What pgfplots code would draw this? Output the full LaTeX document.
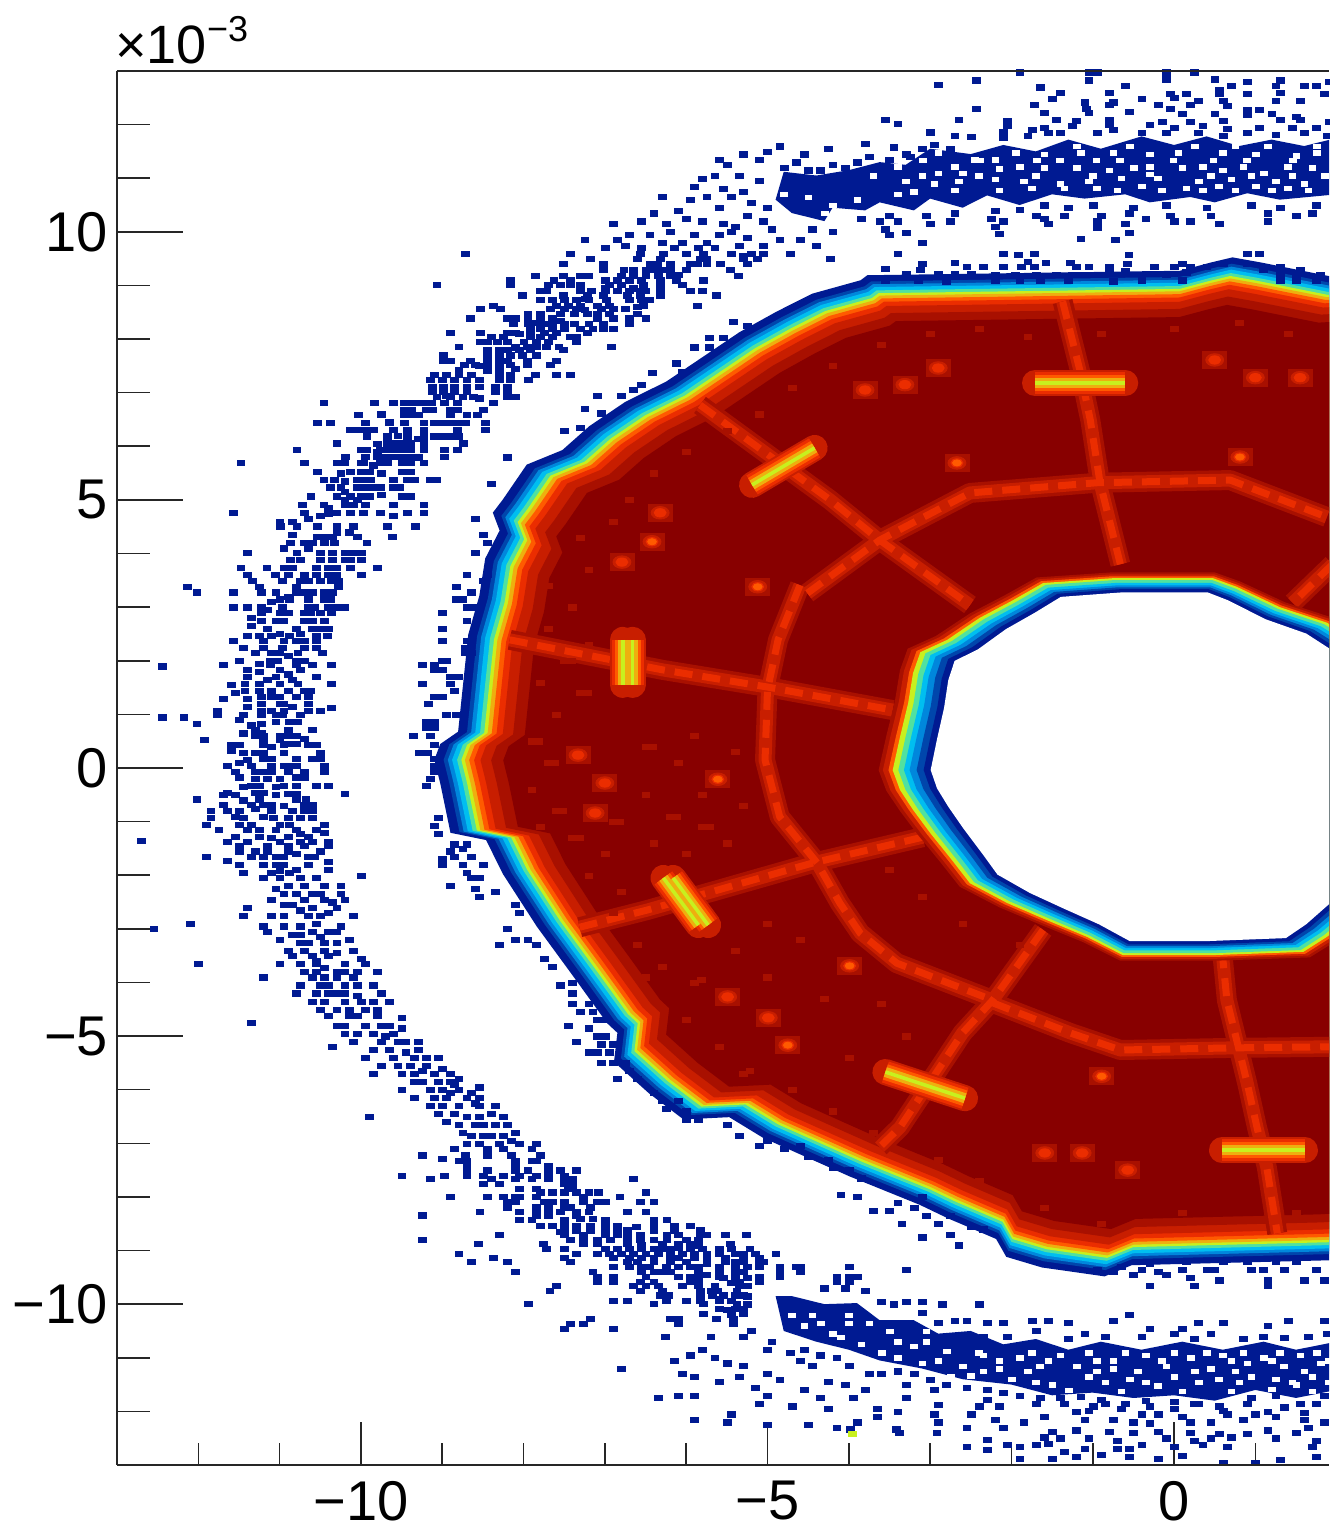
\documentclass[border=0pt]{standalone}
\usepackage{fontspec}
\setmainfont{Liberation Sans}
\usepackage{pgfplots}
\pgfplotsset{compat=1.18}
\usepackage{pgfplotstable}

\definecolor{c0}{RGB}{0,26,146}
\definecolor{c1}{RGB}{0,70,172}
\definecolor{c2}{RGB}{0,135,220}
\definecolor{c3}{RGB}{0,190,240}
\definecolor{c4}{RGB}{80,225,160}
\definecolor{c5}{RGB}{200,240,30}
\definecolor{c6}{RGB}{238,175,15}
\definecolor{c7}{RGB}{255,90,0}
\definecolor{c8}{RGB}{235,45,0}
\definecolor{c9}{RGB}{200,30,0}
\definecolor{c10}{RGB}{168,16,0}
\definecolor{c11}{RGB}{136,0,0}

% outer contour of the ring (yellow level)
\pgfplotstableread{
x y
-8.45 0.65
-8.66 0.43
-8.73 0.15
-8.66 -0.28
-8.54 -1.16
-8.12 -1.29
-7.92 -1.90
-7.52 -2.84
-7.10 -3.71
-6.69 -4.57
-6.57 -4.74
-6.61 -5.26
-6.20 -5.82
-5.79 -6.29
-5.25 -6.25
-4.85 -6.62
-3.83 -7.31
-3.00 -7.82
-2.67 -8.06
-2.10 -8.43
-1.98 -8.75
-1.56 -8.94
-0.82 -9.10
-0.50 -8.90
1.88 -8.81
3.20 -8.70
3.20 8.90
1.88 8.79
1.02 9.05
0.69 9.14
0.44 9.05
0.07 8.90
-3.62 8.82
-3.70 8.73
-4.27 8.49
-4.69 8.17
-5.13 7.80
-5.55 7.37
-5.99 6.92
-6.48 6.55
-6.90 6.12
-7.22 5.69
-7.64 5.43
-7.92 4.81
-8.04 4.57
-7.96 4.25
-8.13 3.75
-8.20 3.08
-8.33 2.39
}\outerring

% contour of the hole (yellow level)
\pgfplotstableread{
x y
-3.12 2.16
-3.21 1.77
-3.27 1.21
-3.37 0.58
-3.46 -0.04
-3.37 -0.41
-3.21 -0.78
-3.00 -1.21
-2.73 -1.72
-2.51 -2.15
-2.05 -2.52
-1.56 -2.84
-1.07 -3.15
-0.63 -3.49
0.48 -3.49
1.59 -3.43
1.88 -3.15
3.20 -1.50
3.20 1.50
1.88 2.71
1.30 3.00
0.77 3.38
0.48 3.54
-0.75 3.54
-1.61 3.45
-1.98 3.13
-2.39 2.80
-2.79 2.39
}\holering

\newcommand{\level}[2]{\addplot[fill=#1,draw=none,forget plot] table[x expr=\thisrow{x}*#2,y expr=\thisrow{y}*#2]{\outerring};}
\newcommand{\holelevel}[3]{\addplot[fill=#1,draw=none,forget plot] table[x expr=\thisrow{x}*#2,y expr=\thisrow{y}*#3]{\holering};}
\pgfplotsset{
  ridge/.style={draw=#1,no marks,forget plot,line join=round},
  bin/.style={only marks,forget plot,mark=square*,mark size=1.95pt,color=#1,mark options={color=#1,yscale=0.665,line width=0.1pt,solid}},
}
\newcommand{\ridges}[2]{%
\addplot[ridge=#1,#2] coordinates {(-8.17,2.39)(-6.29,1.83)(-5,1.51)(-3.46,1.08)};
\addplot[ridge=#1,#2] coordinates {(-4.6,3.41)(-4.87,2.39)(-5,1.46)(-5.03,0.15)(-4.85,-0.91)(-4.39,-1.77)(-4.11,-2.52)(-3.86,-3.08)(-3.41,-3.64)(-2.23,-4.33)};
\addplot[ridge=#1,#2] coordinates {(-7.31,-2.97)(-6.48,-2.65)(-5.62,-2.28)(-4.44,-1.77)(-3.09,-1.29)};
\addplot[ridge=#1,#2] coordinates {(-5.83,6.77)(-5.46,6.36)(-4.23,5)(-3.62,4.25)(-2.51,3.04)};
\addplot[ridge=#1,#2] coordinates {(-4.51,3.26)(-3.62,4.25)(-2.51,5.13)(-0.95,5.32)(0.69,5.37)(1.88,4.68)};
\addplot[ridge=#1,#2] coordinates {(-1.37,8.7)(-1.16,7.43)(-1.03,6.49)(-0.91,5.32)(-0.66,3.8)};
\addplot[ridge=#1,#2] coordinates {(1.95,3.8)(1.46,3.08)};
\addplot[ridge=#1,#2] coordinates {(-1.61,-3.02)(-2.23,-4.33)(-2.6,-4.94)(-2.88,-5.58)(-3.37,-6.7)(-3.62,-7.07)};
\addplot[ridge=#1,#2] coordinates {(-2.23,-4.38)(-1.28,-4.94)(-0.66,-5.26)(0.73,-5.22)(1.95,-5.2)};
\addplot[ridge=#1,#2] coordinates {(0.59,-3.4)(0.65,-4.33)(0.9,-5.88)(1.02,-6.7)(1.14,-7.44)(1.27,-8.68)};
}
\newcommand{\hotspots}[2]{%
\addplot[ridge=#1,#2] coordinates {(-5.19,5.28)(-4.42,5.97)};
\addplot[ridge=#1,#2] coordinates {(-1.71,7.18)(-0.6,7.18)};
\addplot[ridge=#1,#2] coordinates {(-6.78,2.39)(-6.78,1.55)};
\addplot[ridge=#1,#2] coordinates {(-6.66,2.39)(-6.66,1.55)};
\addplot[ridge=#1,#2] coordinates {(-6.28,-2.05)(-5.85,-2.93)};
\addplot[ridge=#1,#2] coordinates {(-6.16,-2.05)(-5.73,-2.93)};
\addplot[ridge=#1,#2] coordinates {(-3.55,-5.67)(-2.57,-6.16)};
\addplot[ridge=#1,#2] coordinates {(0.59,-7.13)(1.61,-7.13)};
}

\begin{document}
\begin{tikzpicture}
\path[use as bounding box] (0,0) rectangle (664.5pt,765pt);
\begin{axis}[
    at={(58.5pt,32.5pt)},anchor=south west,
    scale only axis,width=606pt,height=697pt,
    xmin=-13,xmax=1.906,ymin=-13,ymax=13,
    axis x line*=box,axis y line*=left,
    axis line style={line width=0.8pt,black!85},
    xtick={-10,-5,0},xticklabels={−10,−5,0},
    minor xtick={-12,-11,-9,-8,-7,-6,-4,-3,-2,-1,1},
    ytick=\empty,
    xtick pos=bottom,tick align=inside,
    major tick length=21.5pt,minor tick length=11pt,
    tick style={line width=0.8pt,black!85},
    xticklabel style={font=\fontsize{28}{28}\selectfont,yshift=-4.5pt},
    axis on top,
  ]
% halo, left side
\addplot[bin=c0] coordinates {
(-10.46,6.82)(-9.84,6.82)(-9.6,6.82)(-9.47,6.82)(-9.38,6.82)(-9.3,6.82)(-9.21,6.82)(-9.13,6.82)(-8.98,6.82)(-8.82,6.82)(-8.37,6.82)
(-9.47,6.68)(-9.38,6.68)(-9.2,6.68)(-9.12,6.68)(-8.9,6.68)(-8.81,6.68)(-8.5,6.68)
(-10.03,6.59)(-9.47,6.59)(-9.38,6.59)(-9.3,6.59)(-8.9,6.59)(-8.7,6.59)(-8.57,6.59)
(-10.54,6.44)(-10.38,6.44)(-9.95,6.44)(-9.47,6.44)(-9.23,6.44)(-9.1,6.44)(-9,6.44)(-8.9,6.44)(-8.8,6.44)(-8.72,6.44)(-8.47,6.44)
(-10.13,6.31)(-10.03,6.31)(-9.93,6.31)(-9.85,6.31)(-9.6,6.31)(-9.43,6.31)(-9.23,6.31)(-8.82,6.31)(-8.47,6.31)
(-9.93,6.19)(-9.68,6.19)(-9.43,6.19)(-9.23,6.19)(-9.1,6.19)(-9,6.19)(-8.9,6.19)(-8.8,6.19)
(-10.3,6.06)(-9.68,6.06)(-9.6,6.06)(-9.5,6.06)(-9.4,6.06)(-9.23,6.06)(-8.74,6.06)
(-10.79,5.94)(-10,5.94)(-9.93,5.94)(-9.76,5.94)(-9.68,5.94)(-9.6,5.94)(-9.5,5.94)(-9.4,5.94)(-9.23,5.94)(-8.98,5.94)(-8.82,5.94)
(-10.19,5.81)(-9.95,5.81)(-9.8,5.81)(-9.7,5.81)(-9.6,5.81)(-9.5,5.81)(-9.4,5.81)(-8.98,5.81)
(-11.48,5.69)(-10.7,5.69)(-10.3,5.69)(-10.2,5.69)(-9.97,5.69)(-9.76,5.69)(-9.68,5.69)(-9.5,5.69)(-9.4,5.69)(-9.23,5.69)
(-10.54,5.53)(-10.13,5.53)(-10,5.53)(-9.9,5.53)(-9.5,5.53)(-9.4,5.53)
(-10.46,5.38)(-10.33,5.38)(-10.05,5.38)(-9.97,5.38)(-9.88,5.38)(-9.6,5.38)(-9.43,5.38)(-9.35,5.38)(-9.15,5.38)(-9.07,5.38)
(-10.38,5.24)(-10.25,5.24)(-10.05,5.24)(-9.95,5.24)(-9.85,5.24)(-9.76,5.24)(-9.6,5.24)(-9.53,5.24)
(-10.62,5.07)(-10.3,5.07)(-10.13,5.07)(-10,5.07)(-9.9,5.07)(-9.5,5.07)(-9.4,5.07)
(-10.72,4.91)(-10.46,4.91)(-10.2,4.91)(-10.1,4.91)(-9.95,4.91)(-9.6,4.91)(-9.23,4.91)
(-11.57,4.76)(-10.7,4.76)(-10.3,4.76)(-10.13,4.76)(-9.97,4.76)(-9.76,4.76)(-9.43,4.76)(-9.23,4.76)
(-10.99,4.51)(-10.79,4.51)(-10.54,4.51)(-10.3,4.51)(-10.1,4.51)(-9.68,4.51)(-9.33,4.51)
(-10.54,4.32)(-10.45,4.32)(-10.35,4.32)(-10.05,4.32)(-9.62,4.32)
(-10.87,4.2)(-10.7,4.2)(-10.6,4.2)(-10.45,4.2)(-10.33,4.2)(-9.93,4.2)(-8.45,4.2)
(-11.4,4.01)(-10.79,4.01)(-10.5,4.01)(-10.35,4.01)(-10.2,4.01)(-10.1,4.01)(-10,4.01)(-8.6,4.01)
(-10.87,3.89)(-10.75,3.89)(-10.5,3.89)(-10.35,3.89)(-10.2,3.89)(-10.13,3.89)(-10,3.89)
(-11.48,3.73)(-11.16,3.73)(-10.95,3.73)(-10.85,3.73)(-10.55,3.73)(-10.4,3.73)(-10.3,3.73)(-10.13,3.73)(-9.8,3.73)
(-11.4,3.6)(-11.06,3.6)(-10.55,3.6)(-10.4,3.6)(-10.3,3.6)(-10,3.6)(-8.7,3.6)(-8.45,3.6)
(-11.34,3.49)(-10.97,3.49)(-10.75,3.49)(-10.65,3.49)(-10.5,3.49)(-10.37,3.49)(-10.28,3.49)(-8.5,3.49)
(-12.14,3.38)(-11.25,3.38)(-10.8,3.38)(-10.28,3.38)(-8.83,3.38)
(-12.02,3.28)(-11.57,3.28)(-11.23,3.28)(-11.05,3.28)(-10.8,3.28)(-10.7,3.28)(-10.6,3.28)(-10.45,3.28)(-10.35,3.28)(-8.65,3.28)
(-11,3.15)(-10.88,3.15)(-10.65,3.15)(-10.45,3.15)(-10.38,3.15)(-8.83,3.15)(-8.75,3.15)
(-11.57,3)(-11.4,3)(-11.23,3)(-10.97,3)(-10.65,3)(-10.58,3)(-10.4,3)(-10.3,3)(-10.2,3)(-8.7,3)(-8.6,3)
(-11.23,2.9)(-11,2.9)(-10.9,2.9)(-10.7,2.9)(-10.62,2.9)(-10.5,2.9)(-10.37,2.9)(-9,2.9)
(-11.23,2.75)(-11.05,2.75)(-10.95,2.75)(-10.7,2.75)(-10.6,2.75)(-10.45,2.75)(-8.7,2.75)
(-11.15,2.6)(-10.8,2.6)(-10.6,2.6)(-10.5,2.6)(-10.4,2.6)(-9,2.6)
(-11.4,2.47)(-11.25,2.47)(-11.1,2.47)(-10.88,2.47)(-10.55,2.47)(-10.42,2.47)
(-11.57,2.38)(-11.2,2.38)(-10.95,2.38)(-10.8,2.38)(-10.7,2.38)(-10.55,2.38)(-9,2.38)(-8.7,2.38)
(-10.97,2.25)(-10.7,2.25)(-10.55,2.25)(-8.72,2.25)
(-11.3,2.15)(-11.1,2.15)(-11,2.15)(-10.78,2.15)(-10.48,2.15)(-8.72,2.15)(-8.65,2.15)
(-11.5,2)(-11.12,2)(-11.03,2)(-10.8,2)(-10.7,2)(-9,2)(-8.95,2)
(-11.7,1.93)(-11.12,1.93)(-10.8,1.93)(-10.6,1.93)(-10.37,1.93)(-9.25,1.93)(-9.1,1.93)
(-12.45,1.9)(-11.4,1.83)(-11,1.83)(-10.75,1.83)(-9.1,1.83)(-9,1.83)
(-11.4,1.7)(-11.05,1.7)(-10.55,1.7)(-8.9,1.7)(-8.8,1.7)
(-11.43,1.57)(-11.25,1.57)(-11,1.57)(-10.78,1.57)(-10.37,1.57)(-9.25,1.57)(-8.9,1.57)
(-11.43,1.45)(-11.25,1.45)(-11.1,1.45)(-10.7,1.45)(-10.62,1.45)(-8.85,1.45)
(-11.1,1.33)(-11.23,1.33)(-11,1.33)(-10.8,1.33)(-10.65,1.33)(-9.1,1.33)(-9,1.33)
(-11.7,1.3)(-11.4,1.3)(-11,1.2)(-11.23,1.2)(-10.95,1.2)(-10.65,1.2)(-9.17,1.2)
(-11.77,1.07)(-11.23,1.07)(-11.1,1.07)(-10.95,1.07)(-10.65,1.07)(-10.5,1.07)(-10.37,1.12)
(-12.45,0.95)(-12.18,0.95)(-11.77,1)(-11.45,1)(-11.23,1)(-11.05,1)(-10.97,1)(-8.95,1)(-8.83,1)
(-12.02,0.83)(-11.23,0.83)(-11.05,0.87)(-10.88,0.87)(-10.78,0.87)(-9.2,0.87)(-9.1,0.87)
(-11.3,0.72)(-11.23,0.65)(-10.9,0.72)(-10.6,0.72)(-9.2,0.75)(-9.1,0.75)
(-11.3,0.6)(-11.2,0.6)(-11,0.6)(-10.9,0.6)(-10.8,0.6)(-9.36,0.6)(-9.15,0.6)
(-11.93,0.53)(-11.2,0.53)(-11,0.53)(-10.9,0.45)(-10.8,0.45)
(-11.6,0.43)(-11.5,0.43)(-11.2,0.43)(-10.95,0.43)(-10.65,0.43)(-10.55,0.43)(-9.1,0.43)
(-11.6,0.32)(-11.45,0.28)(-11.3,0.28)(-11.2,0.28)(-10.95,0.28)(-10.5,0.28)(-9.28,0.28)(-9.18,0.28)
(-11.1,0.17)(-11.2,0.17)(-10.8,0.17)(-10.6,0.17)(-10.5,0.17)(-9.1,0.17)
(-11.65,0.05)(-11.35,0.05)(-11.1,0.05)(-10.9,0.05)(-10.8,0.05)(-10.45,0.05)(-9.1,0.05)
(-11.55,-0.06)(-11.3,-0.06)(-11.2,-0.06)(-11.1,-0.06)(-10.9,-0.06)(-10.7,-0.06)(-10.45,-0.06)(-9.1,-0.06)
(-11.5,-0.17)(-11.3,-0.2)(-11.15,-0.2)(-10.8,-0.17)(-10.7,-0.17)(-9.15,-0.2)
(-11.35,-0.33)(-11.25,-0.33)(-10.95,-0.33)(-10.8,-0.33)(-10.55,-0.33)(-10.4,-0.33)(-9.2,-0.33)
(-11.65,-0.46)(-11.3,-0.46)(-11.2,-0.46)(-10.9,-0.48)(-10.8,-0.48)(-10.2,-0.48)
(-12.02,-0.58)(-11.7,-0.5)(-11.55,-0.5)(-11.25,-0.58)(-10.8,-0.58)(-10.68,-0.58)
(-11.7,-0.68)(-11.35,-0.68)(-11.2,-0.68)(-11.1,-0.68)(-10.7,-0.68)(-10.6,-0.68)
(-11.85,-0.8)(-11.65,-0.8)(-11.5,-0.8)(-11.3,-0.75)(-11.1,-0.8)(-10.85,-0.8)(-10.7,-0.8)(-10.6,-0.8)
(-11.85,-0.93)(-11.55,-0.9)(-11.45,-0.93)(-11.08,-0.93)(-10.9,-0.93)(-10.75,-0.93)(-10.6,-0.93)(-9.05,-0.93)
(-11.9,-1.05)(-11.5,-1.05)(-11.35,-1.05)(-11,-1.05)(-10.88,-1.05)(-10.45,-1.05)
(-11.75,-1.15)(-11.4,-1.15)(-11.25,-1.15)(-11.05,-1.15)(-10.8,-1.15)(-9.1,-1.07)
(-11.55,-1.28)(-11.25,-1.28)(-10.9,-1.28)(-10.75,-1.22)(-10.65,-1.28)(-10.45,-1.2)(-9.05,-1.22)
(-11.65,-1.38)(-11.4,-1.38)(-11.0,-1.38)(-10.75,-1.38)(-10.6,-1.38)(-10.4,-1.38)
(-12.7,-1.35)(-11.5,-1.45)(-10.9,-1.45)(-10.7,-1.45)(-10.4,-1.45)(-8.85,-1.42)(-8.7,-1.42)
(-11.5,-1.55)(-11.3,-1.55)(-11.15,-1.55)(-10.9,-1.55)(-10.5,-1.55)(-8.9,-1.55)(-8.75,-1.5)
(-11.9,-1.65)(-11.65,-1.72)(-11.35,-1.65)(-11.2,-1.65)(-11.05,-1.65)(-10.95,-1.65)(-10.65,-1.65)(-10.58,-1.65)(-9,-1.7)(-8.85,-1.65)(-8.65,-1.65)
(-11.5,-1.8)(-11.05,-1.8)(-10.95,-1.8)(-10.65,-1.8)(-10.4,-1.75)(-9,-1.8)(-8.75,-1.8)(-8.5,-1.8)
(-11.45,-1.95)(-11.1,-1.95)(-10.88,-1.95)(-10.4,-1.9)(-8.7,-1.95)
(-11.2,-2.05)(-11,-2.05)(-10,-2.0)(-8.65,-2.05)(-8.55,-2.05)
(-10.9,-2.2)(-10.7,-2.2)(-10.45,-2.2)(-10.25,-2.2)(-8.9,-2.2)
(-10.95,-2.35)(-10.6,-2.35)(-10.5,-2.35)(-10.25,-2.35)(-8.6,-2.25)(-8.35,-2.3)
(-11.1,-2.45)(-10.7,-2.45)(-10.45,-2.45)(-10.2,-2.45)(-8.55,-2.4)
(-11.4,-2.6)(-10.95,-2.55)(-10.85,-2.55)(-10.6,-2.6)(-10.3,-2.6)(-8.1,-2.55)
(-11.45,-2.75)(-11.1,-2.75)(-10.95,-2.75)(-10.65,-2.75)(-10.4,-2.7)(-10.1,-2.75)(-8.05,-2.7)
(-12.1,-2.9)(-12.55,-3)(-11.2,-2.95)(-10.95,-2.95)(-10.75,-2.95)(-10.55,-2.9)(-10.25,-2.95)
(-11.15,-3.05)(-10.85,-3.1)(-10.75,-3.1)(-10.4,-3.05)(-10.3,-3.05)(-8.2,-3)
(-11,-3.2)(-10.75,-3.25)(-10.65,-3.25)(-10.3,-3.25)(-10.15,-3.2)(-8.1,-3.2)(-7.95,-3.2)
(-10.9,-3.4)(-10.7,-3.4)(-10.45,-3.4)(-10.1,-3.4)(-8.3,-3.3)(-7.85,-3.3)
(-10.85,-3.5)(-10.6,-3.5)(-10.4,-3.5)(-10.0,-3.55)(-7.75,-3.55)
(-11,-3.65)(-10.75,-3.65)(-10.55,-3.65)(-10.2,-3.65)(-9.95,-3.65)(-7.65,-3.7)
(-10.7,-3.8)(-10.55,-3.8)(-10.3,-3.8)(-10.05,-3.8)(-9.8,-3.8)
(-12,-3.65)(-11.2,-3.9)(-10.6,-3.9)(-10.45,-3.9)(-10.3,-3.9)(-10.1,-3.9)(-7.4,-4)
(-10.75,-4.05)(-10.5,-4.05)(-10.4,-4.05)(-10.05,-4.05)(-9.85,-4.05)(-7.55,-4.05)
(-10.8,-4.2)(-10.55,-4.2)(-10.4,-4.2)(-10.3,-4.2)(-10.2,-4.2)(-9.75,-4.2)(-7.4,-4.2)
(-10.6,-4.35)(-10.45,-4.35)(-10.0,-4.35)(-9.85,-4.35)(-9.65,-4.35)(-7.4,-4.4)(-7.2,-4.4)
(-10.5,-4.5)(-10.3,-4.5)(-10.15,-4.5)(-9.95,-4.5)(-7.3,-4.55)(-7.15,-4.55)
(-11.35,-4.75)(-10.4,-4.62)(-10.15,-4.62)(-9.8,-4.62)(-9.5,-4.65)(-7.1,-4.7)(-7,-4.7)
(-10.3,-4.8)(-10.2,-4.8)(-9.95,-4.8)(-9.75,-4.8)(-9.5,-4.85)(-7.45,-4.8)(-7.2,-4.85)
(-10.2,-4.95)(-10.05,-4.95)(-9.85,-4.95)(-9.6,-4.95)(-7.1,-5)(-7,-5)
(-10.1,-5.1)(-9.75,-5.1)(-9.55,-5.1)(-9.45,-5.1)(-7.35,-5.1)(-7.05,-5.15)(-6.9,-5.15)
(-10.35,-5.2)(-9.85,-5.25)(-9.65,-5.25)(-9.3,-5.25)(-7.2,-5.3)(-7.1,-5.3)(-6.95,-5.3)
(-9.95,-5.4)(-9.6,-5.4)(-9.35,-5.4)(-9.05,-5.4)(-7.05,-5.5)(-6.9,-5.5)(-6.75,-5.5)
(-9.75,-5.55)(-9.55,-5.55)(-9.4,-5.55)(-9.2,-5.55)(-6.7,-5.65)
(-9.85,-5.7)(-9.5,-5.7)(-9.35,-5.7)(-9.1,-5.7)(-8.9,-5.7)(-6.85,-5.8)(-6.6,-5.8)
(-9.35,-5.85)(-9.25,-5.85)(-9.05,-5.85)(-8.85,-5.9)(-6.4,-6.05)
(-9.5,-6)(-9.15,-6)(-9,-6)(-8.8,-6)(-8.65,-6.05)(-6.3,-6.2)(-6.1,-6.2)
(-9.35,-6.15)(-9.1,-6.15)(-8.95,-6.15)(-8.7,-6.15)(-8.55,-6.15)(-6.25,-6.35)(-6.0,-6.4)
(-9.15,-6.3)(-9,-6.3)(-8.8,-6.3)(-8.55,-6.3)(-8.35,-6.3)(-6,-6.55)(-5.85,-6.55)
(-9.9,-6.5)(-9.05,-6.45)(-8.85,-6.45)(-8.7,-6.5)(-8.55,-6.5)(-8.25,-6.5)
(-8.95,-6.6)(-8.8,-6.65)(-8.6,-6.65)(-8.5,-6.65)(-8.2,-6.65)(-5.5,-6.65)
(-8.75,-6.8)(-8.65,-6.85)(-8.5,-6.85)(-8.4,-6.85)(-8.1,-6.8)(-5.35,-6.85)(-5,-6.95)
(-8.7,-7)(-8.55,-7)(-8.3,-7)(-8.05,-7)(-7.85,-7)(-5.1,-7.05)(-4.8,-7.1)(-4.6,-7.05)
(-8.85,-7.1)(-8.45,-7.1)(-8.25,-7.1)(-7.9,-7.1)(-4.5,-7.25)(-4.25,-7.3)
(-9.25,-7.22)(-8.72,-7.22)(-8.45,-7.22)(-8.15,-7.22)(-7.8,-7.22)(-4.2,-7.45)(-4,-7.5)
(-9,-7.28)(-8.8,-7.32)(-8.7,-7.32)(-8.1,-7.32)(-7.9,-7.32)(-7.85,-7.32)(-3.85,-7.65)
(-11,4.6)(-10.85,4.6)(-10.65,4.65)(-10.5,4.7)(-10.4,4.85)(-10.3,4.4)(-10.15,4.4)(-10.85,4.35)(-10.95,4.1)(-10.65,4.1)(-10.9,3.6)(-10.7,3.6)(-10.9,3.2)(-11.1,3.1)(-11.15,2.95)(-11.35,2.8)(-11.35,2.65)(-11,2.5)(-10.75,2.5)(-11.45,2.25)(-11.2,2.25)(-10.9,2.1)(-11.25,1.95)(-10.9,1.75)(-11.25,1.8)(-11.15,1.65)(-10.85,1.65)(-11.6,1.55)(-10.9,1.45)(-11.55,1.4)(-10.85,1.15)(-11.4,1.15)(-11.5,0.9)(-11.35,0.8)(-10.75,1)(-11.45,0.65)(-10.7,0.55)(-11.1,0.4)(-11.4,0.15)(-11.5,0.1)(-10.95,0.05)(-11,-0.2)(-11.05,-0.35)(-11.45,-0.35)(-11.05,-0.5)(-11.45,-0.6)(-10.95,-0.7)(-11.2,-0.9)(-10.55,-1.15)(-11.1,-1.3)(-11.15,-1.45)(-10.8,-1.6)(-11.2,-1.8)(-10.8,-1.9)(-11,-1.92)(-10.75,-2.05)(-10.55,-2.05)(-11.05,-2.25)(-10.8,-2.35)(-10.35,-2.5)(-10.75,-2.65)(-10.5,-2.75)(-10.6,-3.05)(-10.5,-3.15)(-10.45,-3.25)(-10.3,-3.45)(-10.55,-3.6)(-10.45,-3.72)(-10.2,-3.8)(-10.2,-4.05)(-10.05,-4.25)(-10.2,-4.35)(-9.8,-4.5)(-10.05,-4.62)(-9.65,-4.8)(-9.7,-5)(-9.3,-5.1)(-9.45,-5.3)(-9.2,-5.4)(-9.25,-5.65)(-9,-5.6)(-8.9,-5.85)(-8.8,-5.8)(-8.9,-6.05)(-8.55,-5.95)(-8.6,-6.25)(-8.4,-6.45)(-8.35,-6.65)(-8.25,-6.85)(-8.15,-6.95)
};
% halo, upper left
\addplot[bin=c0] coordinates {
(-8.72,9.6)(-7.43,9.6)(-6.57,9.6)(-6.28,9.6)(-5.79,9.6)(-5.2,9.6)(-5.05,9.6)(-4.72,9.6)
(-7.18,9.5)(-6.6,9.5)(-6.32,9.5)(-5.83,9.5)(-5.75,9.5)(-5.3,9.5)(-5.13,9.5)(-4.23,9.5)
(-7.51,9.41)(-7.02,9.41)(-6.45,9.41)(-6.36,9.41)(-6.2,9.41)(-5.87,9.41)(-5.75,9.41)(-5.58,9.41)(-5.25,9.41)
(-7.02,9.29)(-6.77,9.29)(-6.65,9.29)(-6.5,9.29)(-6.4,9.29)(-6.3,9.29)(-6.2,9.29)(-6,9.29)(-5.46,9.29)
(-7.86,9.19)(-7.51,9.19)(-7.3,9.19)(-7.2,9.19)(-6.8,9.19)(-6.65,9.19)(-6.5,9.19)(-6.35,9.19)(-6.2,9.19)(-5.36,9.19)
(-8.17,9.1)(-7.63,9.1)(-7.43,9.1)(-7,9.1)(-6.85,9.1)(-6.7,9.1)(-6.32,9.1)(-6.12,9.1)(-5.79,9.1)
(-9.07,9.01)(-8.17,9.01)(-7.7,9.01)(-7.55,9.01)(-7.43,9.01)(-7.3,9.01)(-6.95,9.01)(-6.8,9.01)(-6.53,9.01)(-6.32,9.01)(-6.05,9.01)
(-7.8,8.91)(-7.72,8.91)(-7.3,8.91)(-7.17,8.91)(-7,8.91)(-6.85,8.91)(-6.7,8.91)(-6.55,8.91)(-6.5,8.91)(-6.32,8.91)(-5.95,8.91)(-5.8,8.91)
(-8.02,8.82)(-7.51,8.82)(-7.22,8.82)(-7.02,8.82)(-6.73,8.82)(-6.57,8.82)(-6.32,8.82)(-5.63,8.82)
(-7.8,8.73)(-7.65,8.73)(-7.5,8.73)(-7.35,8.73)(-7.2,8.73)(-6.98,8.73)(-6.7,8.73)(-6.55,8.73)(-6.45,8.73)
(-8.37,8.63)(-7.6,8.63)(-7.45,8.63)(-7.3,8.63)(-7.1,8.63)(-6.95,8.63)(-6.53,8.63)(-5.87,8.63)
(-8.53,8.57)(-8.29,8.57)(-7.67,8.57)(-7.5,8.57)(-7.35,8.57)(-7.05,8.57)(-6.9,8.57)(-6.75,8.57)
(-7.95,8.48)(-7.8,8.48)(-7.55,8.48)(-7.38,8.48)(-7.22,8.48)(-7.1,8.48)(-6.95,8.48)(-6.6,8.48)
(-8.66,8.39)(-8.2,8.39)(-8.1,8.39)(-7.95,8.39)(-7.8,8.39)(-7.65,8.39)(-7.1,8.39)(-6.9,8.39)(-6.7,8.39)(-6.5,8.39)
(-8.13,8.29)(-7.95,8.29)(-7.75,8.29)(-7.65,8.29)(-7.5,8.29)(-7.38,8.29)(-7.2,8.29)(-7.02,8.29)(-6.7,8.29)
(-7.92,8.2)(-7.8,8.2)(-7.65,8.2)(-7.5,8.2)(-7.3,8.2)(-7.15,8.2)(-7.02,8.2)(-6.9,8.2)
(-8.9,8.12)(-8.53,8.12)(-8.2,8.12)(-8.1,8.12)(-7.92,8.12)(-7.75,8.12)(-7.6,8.12)(-7.22,8.12)
(-8.4,8.05)(-8.25,8.05)(-7.92,8.05)(-7.8,8.05)(-7.65,8.05)(-7.43,8.05)(-7.35,8.05)
(-8.53,7.95)(-8.45,7.95)(-8.33,7.95)(-8.2,7.95)(-8,7.95)(-7.85,7.95)(-7.7,7.95)(-7.35,7.95)
(-8.8,7.86)(-7.96,7.86)(-7.85,7.86)(-7.72,7.86)(-7.57,7.86)(-6.92,7.86)
(-8.45,7.8)(-8.3,7.8)(-8.2,7.8)(-8.05,7.8)(-7.92,7.8)(-7.51,7.8)
(-8.99,7.7)(-8.45,7.7)(-8.3,7.7)(-8.17,7.7)(-8.02,7.7)(-7.85,7.7)
(-8.99,7.6)(-8.9,7.6)(-8.66,7.6)(-8.45,7.6)(-8.3,7.6)(-8.2,7.6)(-7.96,7.6)(-7.6,7.6)
(-8.73,7.52)(-8.6,7.52)(-8.45,7.52)(-8.3,7.52)(-8.17,7.52)(-7.96,7.52)(-7.67,7.52)
(-8.8,7.42)(-8.45,7.42)(-8.3,7.42)
(-9.1,7.33)(-8.95,7.33)(-8.8,7.33)(-8.65,7.33)(-8.3,7.33)(-8.17,7.33)(-7.86,7.33)(-7.6,7.33)(-7.43,7.33)
(-9.15,7.24)(-9,7.24)(-8.85,7.24)(-8.7,7.24)(-8.3,7.24)(-8.17,7.24)(-7.94,7.24)
(-9.12,7.11)(-8.99,7.11)(-8.85,7.11)(-8.7,7.11)(-8.55,7.11)(-8.35,7.11)(-8.2,7.11)
(-9.12,7.02)(-8.99,7.02)(-8.85,7.02)(-8.7,7.02)(-8.35,7.02)(-8.2,7.02)
(-9.07,6.93)(-8.9,6.93)(-8.75,6.93)(-8.62,6.93)(-8.2,6.93)(-8.1,6.93)
(-9.75,6.6)(-9.65,6.45)(-9.55,6.2)(-9.3,6.15)(-9.8,6.05)(-9.8,5.9)(-9.3,5.8)(-10,5.7)(-9.85,5.65)(-10.25,5.5)(-10.2,5.35)(-9.75,5.5)(-10.2,5.15)(-9.75,5.1)(-10.2,5)(-10.05,5)(-10.4,4.75)(-9.6,4.7)(-8.95,6.95)(-8.55,6.9)(-8.55,7.25)(-8.55,7.5)(-8.1,7.45)(-8.1,7.85)(-8.05,8.1)(-7.85,8.3)(-7.55,8.35)(-7.25,8.55)(-7.25,8.75)(-7,8.95)(-6.65,8.95)(-6.55,9.1)(-6.6,8.6)(-6.45,9.35)(-6.1,9.2)(-5.95,9.4)(-6,9.6)(-5.85,9.7)(-5.65,9.7)(-5.45,9.6)(-5.35,9.75)(-5.45,10)(-5.3,9.55)(-5.05,9.75)(-4.85,9.85)(-4.6,9.85)(-4.4,9.75)
(-5.42,8.32)(-5.25,8.25)(-5.72,8.02)(-5.55,8.02)(-5.9,7.85)(-5.72,7.85)(-6.42,7.38)(-6.12,7.55)(-6.05,7.4)(-6.55,7.15)(-6.65,7.05)(-6.8,6.95)
(-7.1,6.95)(-7.25,6.7)(-7.05,6.62)(-7.5,6.3)(-7.3,6.35)(-8.2,5.8)(-8.4,5.3)(-8.6,4.65)(-8.5,4.35)
(-3.4,9.6)(-2.1,9.6)(-1.92,9.58)(-1.72,9.6)(-0.56,9.58)(0.9,9.6)(1.05,9.6)
(-3.1,9.4)(-2.7,9.42)(-1.8,9.45)(-1.58,9.42)(-1.28,9.42)(-0.8,9.35)(-0.58,9.4)(0.1,9.4)(0.6,9.4)(0.9,9.4)
(-3.55,9.32)(-3.12,9.3)(-2.55,9.35)(-2.35,9.35)(-2.1,9.35)(-1.88,9.35)(-1.72,9.35)(-1.2,9.35)(-1.05,9.35)(-0.8,9.3)(-0.6,9.28)(-0.25,9.35)(0,9.35)(0.2,9.35)(0.4,9.35)(1.3,9.35)(1.55,9.3)
(-3.3,9.22)(-2.9,9.22)(-2.7,9.22)(-2.5,9.22)(-2.2,9.2)(-1.95,9.2)(-1.7,9.2)(-1.45,9.2)(-1.25,9.2)(-1.05,9.2)(-0.9,9.2)(-0.35,9.22)(-0.1,9.2)(0.15,9.25)(1.1,9.3)(1.3,9.2)(1.5,9.2)(1.8,9.2)
(-3.55,9.1)(-3.15,9.1)(-2.8,9.08)(-2.2,9.1)(-1.9,9.1)(-1.65,9.1)(-1.3,9.1)(-0.75,9.08)(-0.4,9.1)(0.1,9.1)(1.3,9.1)(1.5,9.1)(1.75,9.1)
(-3.1,9.8)(-1.15,9.88)(-0.72,9.85)(-2.15,9.96)(-0.55,9.98)(-3.5,9.95)(-0.95,10.08)
(-3.5,-8.25)(-3.4,-8.1)(-3.05,-8.35)(-2.9,-8.5)(-2.75,-8.35)(-2.5,-8.55)(-2.35,-8.6)(-3.35,-8.5)(-3.7,-8.25)(-4.1,-7.95)(-3.9,-8)(-3.1,-8.75)(-2.65,-8.9)(-2.75,-8.7)
(-3.3,-9.35)(-0.75,-9.4)(-0.5,-9.45)(0.1,-9.35)(0.4,-9.35)(0.15,-9.2)(0.6,-9.2)(0.9,-9.2)(1.25,-9.2)(1.5,-9.2)(-0.3,-9.25)
(-0.95,-9.35)(-0.65,-9.3)(-0.4,-9.35)(-0.2,-9.4)(0.5,-9.35)(0.95,-9.35)(1.1,-9.35)(1.35,-9.35)(1.75,-9.35)(-0.1,-9.45)(0.2,-9.5)(0.55,-9.55)(1.15,-9.55)(1.6,-9.55)(1.85,-9.55)
(-0.3,-9.65)(0.25,-9.65)(1.15,-9.65)(-3.1,-8.0)(-3.2,-8.2)
};
% dense bands
\addplot[fill=c0,draw=none,forget plot] coordinates {(-4.9,10.6)(-4.7,10.35)(-4.3,10.2)(-4.2,10.45)(-3.8,10.4)(-3.62,10.55)(-3.2,10.4)(-3,10.62)(-2.6,10.45)(-2.3,10.68)(-1.9,10.5)(-1.5,10.7)(-1.1,10.62)(-0.6,10.7)(-0.3,10.55)(0.2,10.65)(0.5,10.55)(0.9,10.72)(1.3,10.6)(2,10.7)(2,11.75)(1.6,11.6)(1.2,11.72)(0.8,11.6)(0.4,11.78)(0,11.62)(-0.4,11.78)(-0.9,11.55)(-1.3,11.72)(-1.7,11.5)(-2.1,11.62)(-2.5,11.45)(-3,11.55)(-3.3,11.25)(-3.62,11.3)(-4,11.15)(-4.4,11.05)(-4.8,11.12)};
\addplot[fill=c0,draw=none,forget plot] coordinates {(-4.9,-9.85)(-4.7,-9.85)(-4.3,-10)(-3.9,-9.98)(-3.62,-10.3)(-3.2,-10.3)(-2.9,-10.55)(-2.5,-10.5)(-2.1,-10.75)(-1.7,-10.65)(-1.3,-10.85)(-0.9,-10.7)(-0.4,-10.85)(0.1,-10.7)(0.6,-10.85)(1.1,-10.7)(1.5,-10.85)(2,-10.7)(2,-11.6)(1.5,-11.75)(1,-11.6)(0.5,-11.8)(0,-11.7)(-0.5,-11.75)(-1,-11.65)(-1.5,-11.7)(-2,-11.5)(-2.6,-11.4)(-3.1,-11.2)(-3.62,-11.05)(-4,-10.85)(-4.4,-10.7)(-4.8,-10.5)};
% white gaps in the bands
\addplot[only marks,forget plot,mark=square*,mark size=1.65pt,color=white,mark options={color=white,yscale=0.665,line width=0.1pt,solid}] coordinates {
(-3.09,11.34)(-2.39,11.34)(-1.69,11.34)(-1.41,11.34)(-0.96,11.34)(-0.67,11.34)(-0.01,11.34)(0.48,11.34)(0.89,11.34)(1.46,11.34)
(-2.9,11.1)(-2.6,11.1)(-2.15,11.18)(-1.6,11.2)(-1.2,11.2)(-0.8,11.15)(-0.5,11.2)(0.1,11.2)(0.6,11.15)(1.1,11.1)(1.7,11.2)
(-3.3,10.95)(-2.95,10.9)(-2.65,10.95)(-2.2,10.98)(-1.85,10.95)(-1.4,10.9)(-1.05,10.95)(-0.65,11)(-0.2,11)(0.3,10.95)(0.7,10.98)(1.25,10.95)(1.6,10.9)
(-3.4,10.7)(-3.2,10.75)(-1.75,10.82)(-1.35,10.82)(-0.95,10.82)(-0.4,10.85)(0.15,10.82)(0.55,10.85)(1.0,10.85)(1.4,10.82)
(-4.5,10.65)(-4.2,10.5)(-4.8,10.7)(-4.3,10.35)(-3.9,10.6)(-1.6,11.45)(-0.3,11.45)(1,11.45)(1.5,11.42)(-2.2,11.35)
(-1.2,11.6)(-0.55,11.6)(0.25,11.6)(0.75,11.6)(1.15,11.6)(1.75,11.6)
(-2.9,11.48)(-2.45,11.35)(-1.95,11.48)(-1.15,11.48)(-0.75,11.48)(0.05,11.48)(0.6,11.48)(1.75,11.48)
(-3.4,11.22)(-2.7,11.22)(-1.9,11.22)(-0.3,11.22)(0.35,11.22)(0.85,11.22)(1.4,11.22)
(-3.7,11.05)(-3.1,11.05)(-2.4,11.05)(-1.7,11.05)(-1,11.05)(-0.3,11.08)(0.45,11.05)(0.95,11.05)(1.45,11.05)(1.85,11.05)
(-2.7,10.78)(-2.15,10.78)(-0.7,10.78)(-0.15,10.78)(0.35,10.78)(0.75,10.78)(1.2,10.78)(1.65,10.78)
(-3.2,-10.78)(-2.8,-10.88)(-2.35,-10.95)(-1.9,-11)(-1.4,-10.95)(-0.95,-11.05)(-0.35,-10.95)(0.2,-11)(0.6,-10.95)(1.1,-11)(1.55,-10.95)
(-3.4,-11)(-2.6,-11.15)(-2.15,-11.2)(-1.65,-11.15)(-1.2,-11.15)(-0.75,-11.2)(-0.1,-11.15)(0.45,-11.2)(0.9,-11.1)(1.35,-11.15)(1.8,-11.1)
(-2.75,-11.35)(-2,-11.4)(-1.05,-11.35)(-0.55,-11.4)(0,-11.35)(0.55,-11.4)(0.95,-11.35)(1.25,-11.4)(1.7,-11.35)
(-4.2,-10.55)(-4.55,-10.4)(-4.35,-10.35)(-3.85,-10.75)(-4.7,-10.2)(-1.5,-11.5)(-0.2,-11.52)(1.5,-11.5)
(-4,-10.35)(-3.75,-10.35)(-4.45,-10.2)(-4,-10.2)(-3.5,-10.5)(-3.05,-10.5)(-3.4,-10.7)(-3.05,-10.7)(-4.1,-10.62)
(-3.6,-10.9)(-2.4,-10.9)(-1.75,-10.9)(-1.05,-10.9)(-0.6,-10.9)(0,-10.9)(0.4,-10.9)(0.85,-10.9)(1.3,-10.9)(1.75,-10.9)
(-2.9,-11.05)(-2.15,-11.05)(-1.55,-11.05)(-0.75,-11.05)(-0.15,-11.05)(0.7,-11.05)(1.2,-11.05)(1.9,-11.05)
(-3.1,-11.1)(-2.35,-11.25)(-1.8,-11.25)(-0.95,-11.25)(-0.45,-11.25)(0.25,-11.25)(0.75,-11.25)(1.6,-11.25)
(-2.5,-11.33)(-1.7,-11.45)(-0.85,-11.45)(-0.35,-11.45)(0.3,-11.45)(0.8,-11.45)(1.45,-11.45)(1.9,-11.45)
(-1.3,-11.6)(-0.65,-11.62)(0.1,-11.62)(0.7,-11.62)(1.2,-11.58)(1.7,-11.62)
};
% band surroundings
\addplot[bin=c0] coordinates {
(-1.9,12.98)(-1.05,12.98)(-0.95,12.98)(-0.1,12.98)(0.25,12.98)
(-2.9,12.75)(-2.43,12.83)(-1.05,12.83)(-0.1,12.85)(0.5,12.85)(0.9,12.8)(1.3,12.83)(1.9,12.8)
(-1.65,12.7)(-0.6,12.72)(0.55,12.65)(0.7,12.72)(1.25,12.72)(1.6,12.72)(1.75,12.72)
(-1.4,12.6)(-0.8,12.6)(-0.05,12.58)(0.15,12.58)(0.55,12.58)(0.9,12.58)(1.3,12.6)(1.85,12.58)
(-1.5,12.48)(-1.1,12.42)(-0.75,12.42)(-0.4,12.48)(0,12.5)(0.3,12.45)(0.6,12.45)(1.25,12.45)(1.55,12.45)
(-1.72,12.38)(-1.08,12.3)(-0.8,12.38)(-0.2,12.38)(-0.05,12.3)(0.2,12.38)(0.65,12.35)(0.9,12.28)(1.05,12.28)
(-2.43,12.3)(-1.6,12.22)(-1.05,12.22)(-0.55,12.25)(0.1,12.2)(0.5,12.2)(0.9,12.18)(1.2,12.2)(1.5,12.15)
(-3.55,12.1)(-3.4,12.02)(-2.65,12.1)(-2.05,12.08)(-1.45,12.1)(-1.2,12.08)(-0.8,12.1)(-0.15,12.05)(0.2,12.05)(0.6,12.08)(1.3,12.1)(1.55,12.1)(1.9,12.05)
(-2.05,11.98)(-1.6,11.95)(-1.25,11.98)(-0.8,12)(-0.3,12)(0,11.95)(0.35,11.98)(0.65,11.92)(1.05,11.95)(1.45,11.95)(1.75,11.95)
(-3,11.86)(-2.1,11.86)(-1.75,11.9)(-1.55,11.85)(-1.4,11.85)(-0.95,11.85)(-0.75,11.9)(-0.4,11.85)(-0.1,11.85)(0.3,11.85)(0.6,11.8)(0.9,11.85)(1.25,11.82)(1.6,11.85)(1.88,11.8)
(-2.7,11.8)(-2.5,11.78)(-2.1,11.75)(-1.8,11.8)(-3.45,11.58)(-3.1,11.55)(-2.75,11.55)(-2.95,11.62)(-3.3,11.45)(-3.5,11.35)(-3.25,11.4)
(-5.5,11.25)(-5.3,11.45)(-5.1,11.35)(-5,11.5)(-4.8,11.2)(-4.65,11.3)(-4.5,11.15)(-4.35,11.15)(-4.2,11.25)(-4.05,11.2)(-3.9,11.3)(-3.75,11.4)(-4.55,11.45)(-4.85,11.6)(-5.6,11.35)(-4.25,11.55)(-3.8,11.65)(-5.65,11.05)(-5.8,11)(-5.9,10.85)(-5.95,10.6)(-5.75,10.65)(-5.6,10.45)(-5.45,10.65)(-5.55,10.8)(-5.25,10.3)(-5.05,10.2)(-4.95,10.05)(-5.3,10.75)(-5.1,10.95)(-5.2,10.55)(-5,10.45)(-5.35,11.05)
(-6.3,10.65)(-6.1,10.4)(-6.4,10.35)(-6.55,10.2)(-6.25,10.15)(-6,10.25)(-6.2,10)(-6.45,9.95)(-6.7,9.95)(-6.9,10.15)(-5.8,10.2)(-5.55,10.15)(-5.4,10.1)(-5.9,9.95)(-5.6,9.95)(-5.25,9.9)(-6.05,9.8)(-6.3,9.8)(-6.75,9.75)(-7,9.7)(-6.85,9.85)(-7.25,9.85)(-5.75,9.8)(-6.55,9.7)(-6.15,9.7)
(-4.45,10.05)(-4.2,10.0)(-3.85,10.25)(-3.5,10.3)(-3.05,10.3)(-2.7,10.35)(-2.2,10.4)(-1.9,10.42)(-1.6,10.5)(-1.3,10.45)(-1,10.5)(-0.5,10.45)(-0.1,10.5)(0.4,10.45)(0.95,10.5)(1.3,10.45)(1.75,10.5)
(-3.62,10.2)(-3.4,10.2)(-3,10.15)(-2.75,10.2)(-2.25,10.25)(-2.1,10.2)(-1.7,10.3)(-1.35,10.3)(-0.9,10.3)(-0.55,10.35)(-0.35,10.25)(-0.05,10.3)(0.45,10.3)(1.15,10.35)(1.7,10.35)(-0.95,10.2)(0,10.2)(0.2,10.2)(1.5,10.3)(1.15,10.2)(-1.6,10.25)
(-3.55,10.05)(-3.3,9.98)(-2.2,10.1)(-1.55,10.15)(-0.6,10.15)(0.55,10.15)
(-3.6,-9.95)(-3.45,-10)(-3.3,-9.95)(-3.1,-9.95)(-2.85,-10)(-2.4,-10)
(-3.1,-10.15)(-2.9,-10.35)(-2.7,-10.3)(-2.55,-10.3)(-2.3,-10.35)(-2.1,-10.35)(-1.75,-10.3)(-1.55,-10.3)(-1.3,-10.35)(-0.75,-10.3)(-0.55,-10.2)(-0.3,-10.45)(0.1,-10.45)(0.3,-10.35)(0.6,-10.35)(1.15,-10.4)(1.4,-10.3)(1.85,-10.3)
(-2.35,-10.6)(-2.05,-10.6)(-1.7,-10.5)(-1.3,-10.65)(-1.1,-10.55)(-0.85,-10.6)(-0.4,-10.6)(0,-10.55)(0.25,-10.65)(0.45,-10.55)(0.85,-10.65)(1.1,-10.6)(1.35,-10.62)(1.65,-10.6)(1.88,-10.55)
(-3.6,-11.3)(-3.4,-11.25)(-3.2,-11.3)(-3,-11.4)(-2.8,-11.5)(-2.55,-11.55)(-2.3,-11.6)(-2.1,-11.65)(-1.9,-11.7)(-1.65,-11.75)(-1.4,-11.75)(-1.15,-11.72)(-0.9,-11.78)(-0.6,-11.85)(-0.35,-11.8)(0,-11.82)(0.3,-11.85)(0.55,-11.9)(0.95,-11.75)(1.25,-11.7)(1.55,-11.85)(1.85,-11.7)
(-3.3,-11.5)(-2.95,-11.6)(-2.3,-11.78)(-1.7,-11.85)(-1.35,-11.85)(-1,-11.9)(-0.85,-11.85)(-0.3,-11.9)(0,-11.95)(0.25,-11.85)(0.6,-11.98)(0.9,-11.85)(1.35,-11.92)(1.75,-11.85)
(-3.3,-11.75)(-2.9,-11.88)(-2.5,-12.05)(-2.4,-11.9)(-2.15,-11.9)(-1.2,-12)(-1.05,-11.98)(-0.65,-11.95)(-0.4,-12.05)(-0.2,-12.05)(0.1,-12.1)(0.65,-12.05)(1,-12.05)(1.15,-12)(1.6,-12.02)
(-3.4,-12)(-2.95,-12.05)(-2.9,-12.2)(-2.2,-12.15)(-1.85,-12.2)(-1.6,-12.1)(-1.1,-12.15)(-0.75,-12.15)(-0.5,-12.2)(-0.3,-12.22)(0.2,-12.2)(0.45,-12.2)(0.85,-12.15)(1.25,-12.1)(1.6,-12.15)(1.85,-12.2)
(-3.38,-12.4)(-2.92,-12.4)(-2.55,-12.3)(-2.1,-12.3)(-1.5,-12.38)(-1.2,-12.35)(-0.8,-12.38)(-0.5,-12.4)(-0.2,-12.38)(0.2,-12.4)(0.55,-12.42)(0.9,-12.42)(1.15,-12.35)(1.5,-12.4)(1.65,-12.3)
(-2.3,-12.52)(-1.6,-12.48)(-1.4,-12.5)(-1.05,-12.5)(-0.7,-12.55)(-0.1,-12.5)(0.25,-12.55)(0.45,-12.5)(0.7,-12.48)(1.25,-12.5)(1.75,-12.55)
(-2.55,-12.65)(-2.3,-12.72)(-2.05,-12.62)(-1.9,-12.65)(-1.7,-12.62)(-1.55,-12.6)(-1.35,-12.75)(-1.1,-12.7)(-0.7,-12.7)(-0.55,-12.7)(-0.4,-12.62)(0,-12.65)(0.35,-12.62)(0.65,-12.65)(1.7,-12.65)
(-1.9,-12.88)(-1.5,-12.88)(-1.2,-12.85)(-0.9,-12.8)(-0.55,-12.85)(-0.2,-12.88)(0.1,-12.82)(0.6,-12.95)(1,-12.95)(1.75,-12.85)(1.3,-12.9)
(-8.7,-7.41)(-8.1,-7.41)(-7.7,-7.41)(-8.7,-7.5)(-8.45,-7.5)(-8.1,-7.5)(-7.95,-7.5)(-7.7,-7.5)(-7.55,-7.5)(-7.35,-7.5)
(-9.5,-7.6)(-8.98,-7.6)(-8.7,-7.6)(-8.5,-7.6)(-8.25,-7.6)(-8.05,-7.6)(-7.85,-7.6)(-7.7,-7.6)(-7.5,-7.6)
(-9.15,-7.66)(-8.4,-7.66)(-8.1,-7.66)(-7.9,-7.66)(-7.7,-7.66)(-7.5,-7.66)(-7.4,-7.66)(-6.65,-7.66)
(-8.5,-7.75)(-8.3,-7.75)(-7.5,-7.75)(-7.4,-7.75)(-8.05,-7.84)(-7.85,-7.84)(-7.45,-7.84)(-7.4,-7.84)
(-7.8,-7.91)(-7.65,-7.91)(-7.5,-7.91)(-7.35,-7.91)(-7.2,-7.91)(-7.08,-7.91)(-6.5,-7.91)
(-8.9,-8)(-8.45,-8)(-8.25,-8)(-8.1,-8)(-8.05,-8)(-7.85,-8)(-7.27,-8)(-6.82,-8)
(-8.2,-8.09)(-8.1,-8.09)(-7.75,-8.09)(-7.65,-8.09)(-7.5,-8.09)(-7.27,-8.09)(-7.1,-8.09)(-7,-8.09)(-6.57,-8.09)(-6.4,-8.09)
(-8.2,-8.19)(-7.85,-8.19)(-7.7,-8.19)(-7.5,-8.19)(-7.43,-8.19)(-7.18,-8.19)
(-8.54,-8.28)(-8.05,-8.28)(-7.85,-8.28)(-7.7,-8.28)(-7.55,-8.28)(-7.35,-8.28)(-7.2,-8.28)(-6.73,-8.28)(-6.5,-8.28)
(-9.25,-8.34)(-7.85,-8.34)(-7.7,-8.34)(-7.35,-8.34)
(-8.05,-8.43)(-7.9,-8.43)(-7.5,-8.43)(-7,-8.43)(-6.4,-8.43)(-6.24,-8.43)
(-7.8,-8.53)(-7.65,-8.53)(-7.5,-8.53)(-7.35,-8.53)(-7.18,-8.53)(-7,-8.53)(-6.85,-8.53)(-6.4,-8.53)(-6.15,-8.53)(-5.95,-8.53)
(-7.5,-8.62)(-7.35,-8.62)(-7.18,-8.62)(-7,-8.62)(-6.85,-8.62)(-6.73,-8.62)(-6.4,-8.62)(-6.15,-8.62)(-5.83,-8.62)
(-8.3,-8.7)(-7.5,-8.7)(-7.27,-8.7)(-7,-8.7)(-6.85,-8.7)(-6.73,-8.7)(-6.57,-8.7)(-6.24,-8.7)(-6.1,-8.7)(-5.83,-8.7)(-5.75,-8.7)(-5.52,-8.7)(-5.26,-8.7)
(-9.25,-8.79)(-7.43,-8.79)(-7.27,-8.79)(-7.1,-8.79)(-6.94,-8.79)(-6.73,-8.79)(-6.57,-8.79)(-6.24,-8.79)(-6.4,-8.79)(-6,-8.79)(-5.85,-8.79)
(-8.56,-8.87)(-7.76,-8.87)(-7.27,-8.87)(-7.1,-8.87)(-6.73,-8.87)(-6.3,-8.87)(-6.1,-8.87)(-5.95,-8.87)(-5.46,-8.87)
(-7.72,-8.96)(-7.5,-8.96)(-7,-8.96)(-6.85,-8.96)(-6.7,-8.96)(-6.55,-8.96)(-6.4,-8.96)(-6.3,-8.96)(-6.2,-8.96)(-5.95,-8.96)(-5.8,-8.96)(-5.6,-8.96)(-5.45,-8.96)(-5.22,-8.96)
(-8.8,-9.06)(-7.35,-9.06)(-7.1,-9.06)(-6.95,-9.06)(-6.8,-9.06)(-6.65,-9.06)(-6.5,-9.06)(-6.35,-9.06)(-6.2,-9.06)(-6.05,-9.06)(-5.9,-9.06)(-5.75,-9.06)(-5.6,-9.06)(-5.4,-9.06)(-5.3,-9.06)(-5.15,-9.06)(-4.9,-9.06)
(-8.37,-9.13)(-7.5,-9.13)(-6.9,-9.13)(-6.7,-9.13)(-6.55,-9.13)(-6.4,-9.13)(-6.2,-9.13)(-6.1,-9.13)(-5.9,-9.13)(-5.75,-9.13)(-5.52,-9.13)(-5.3,-9.13)(-5.1,-9.13)
(-8.65,-9.21)(-8.2,-9.21)(-7.43,-9.21)(-6.73,-9.21)(-6.6,-9.21)(-6.4,-9.21)(-6.2,-9.21)(-6,-9.21)(-5.75,-9.21)(-5.52,-9.21)(-5.4,-9.21)(-5.3,-9.21)(-5.1,-9.21)(-5.05,-9.21)
(-6.9,-9.3)(-6.7,-9.3)(-6.55,-9.3)(-6.45,-9.3)(-6.25,-9.3)(-6.1,-9.3)(-5.95,-9.3)(-5.85,-9.3)(-5.6,-9.3)(-5.4,-9.3)(-5.25,-9.3)(-5.1,-9.3)(-4.85,-9.3)(-4.65,-9.3)(-4,-9.3)
(-8.1,-9.4)(-7.15,-9.4)(-6.55,-9.4)(-6.4,-9.4)(-6.3,-9.4)(-6.2,-9.4)(-5.85,-9.4)(-5.6,-9.4)(-5.4,-9.4)(-5.3,-9.4)(-4.85,-9.4)(-4.6,-9.4)(-4.6,-9.3)
(-7.1,-9.49)(-6.9,-9.49)(-6.5,-9.49)(-6.1,-9.49)(-5.95,-9.49)(-5.85,-9.49)(-5.6,-9.49)(-5.4,-9.49)(-5.1,-9.49)(-4.85,-9.49)(-4.15,-9.49)(-4,-9.49)(-3.9,-9.49)
(-7.1,-9.58)(-6.9,-9.58)(-6.57,-9.58)(-6.4,-9.58)(-5.95,-9.58)(-5.85,-9.58)(-5.35,-9.58)(-5.1,-9.58)(-4.15,-9.58)(-4,-9.58)
(-7.6,-9.65)(-6.65,-9.65)(-6.5,-9.65)(-6.35,-9.65)(-6.05,-9.65)(-5.85,-9.65)(-5.65,-9.65)(-5.35,-9.65)(-5.25,-9.65)
(-7.68,-9.74)(-6.57,-9.74)(-6.3,-9.74)(-5.83,-9.74)(-5.62,-9.74)(-5.38,-9.74)(-3.8,-9.74)
(-6.32,-9.83)(-6.22,-9.83)(-5.83,-9.83)(-5.68,-9.83)(-5.55,-9.83)(-5.4,-9.83)(-5.3,-9.83)
(-6.9,-9.93)(-6.73,-9.93)(-6.25,-9.93)(-6,-9.93)(-5.83,-9.93)(-5.6,-9.93)(-5.45,-9.93)(-4.3,-9.7)(-4.05,-9.7)
(-7.94,-9.99)(-6.4,-9.99)(-5.79,-9.99)(-5.38,-9.99)
(-5.6,-10.08)(-5.4,-10.08)(-5.3,-10.08)
(-5.79,-10.17)(-5.3,-10.17)
(-7.18,-10.27)(-6.2,-10.27)(-6.1,-10.27)(-5.63,-10.27)(-5.42,-10.27)
(-7.43,-10.36)(-7.27,-10.36)(-6.1,-10.36)(-5.42,-10.36)
(-7.5,-10.45)(-6.9,-10.45)(-5.2,-10.5)
(-6.26,-10.6)(-5.7,-10.6)(-5.3,-10.6)(-4.95,-10.7)(-4.55,-10.85)(-4.35,-10.95)(-4.15,-11)
(-5,-10.85)(-4.72,-10.9)(-4.45,-11.15)(-4.6,-11.05)(-4,-11.15)(-3.75,-11.3)(-5.8,-10.85)(-5.3,-11.15)(-5,-11.3)
(-5.95,-10.95)(-5.65,-11)(-5.5,-11.1)(-6.15,-11.05)(-5.35,-11.35)(-4.85,-11.4)(-4.25,-11.45)(-4.05,-11.5)(-3.8,-11.6)
(-6.8,-11.2)(-6.05,-11.3)(-5.9,-11.35)(-5.6,-11.45)(-5.15,-11.55)(-4.55,-11.6)(-4.35,-11.75)(-3.95,-11.75)(-3.65,-11.95)
(-6.35,-11.75)(-6.1,-11.7)(-5.9,-11.7)(-5.1,-11.85)(-5,-11.7)(-4.7,-11.9)(-4.25,-11.95)(-3.9,-12.2)(-3.65,-12.1)
(-5.9,-12.15)(-5.5,-12.2)(-5.45,-12.05)(-5,-12.25)(-4.5,-12.25)(-4.15,-12.3)(-3.98,-12.33)(-3.42,-12.33)
(-7.3,-8.4)(-7.15,-8.4)(-7.55,-8.65)(-6.62,-8.55)(-6.55,-8.9)(-6.1,-8.95)(-5.75,-9.25)(-5.85,-8.9)(-5.9,-9.3)(-5.75,-9.45)(-5.55,-9.5)(-5.25,-9.5)(-5.7,-9.75)(-5.45,-9.6)(-5.6,-9.9)(-5.25,-9.85)(-5.25,-10)(-5.5,-10.1)(-5.45,-10.2)
};
\addplot[bin=c5] coordinates {(-3.96,-12.41)};

% ring, from the lowest level inwards
\level{c0}{1.042}
\level{c1}{1.029}
\level{c2}{1.023}
\level{c3}{1.017}
\level{c4}{1.010}
\level{c5}{1.004}
\level{c6}{0.999}
\level{c7}{0.993}
\level{c8}{0.986}
\level{c9}{0.977}
\level{c10}{0.962}
\level{c11}{0.945}

% patchy bins inside the ring
\addplot[bin=c10] coordinates {
(-7.9,0.5)(-7.7,0.1)(-7.9,-0.4)(-7.6,-0.8)(-7.8,-1.1)(-7.4,-1.3)(-7.6,1)(-7.3,1.4)(-7.8,1.6)(-7.5,2)(-7.2,2.3)(-7.7,2.6)(-7.4,3)(-7.7,3.4)(-7.2,3.7)(-7.3,4.3)(-6.9,4.6)(-6.7,5)(-6.4,5.5)(-6,5.9)(-5.5,6.3)(-5.1,6.6)(-4.7,7.1)(-4.2,7.5)(-3.6,7.9)(-3,8.1)(-2.4,8.2)(-1.8,8.05)(-0.9,8.1)(0,8.2)(0.8,8.3)(1.4,8.1)
(-7,-1.6)(-7.2,-2)(-6.8,-2.3)(-6.9,-1)(-6.5,-0.5)(-6.2,-0.9)(-6.4,-1.4)(-6,-1.6)(-5.8,-1.1)(-5.5,-1.4)(-5.3,-0.7)(-5.8,-0.5)(-6.1,0.1)(-6.5,0.4)(-5.9,0.6)(-5.4,0.3)
(-6.6,-3.3)(-6.3,-3.7)(-5.9,-4)(-6,-4.7)(-5.6,-5.2)(-5.3,-5.7)(-4.7,-6)(-4.2,-6.4)(-3.7,-6.8)(-2.9,-7.3)(-2.4,-7.7)(-1.6,-8.2)(-0.9,-8.5)(0.1,-8.3)(1.5,-8.3)
(-6.9,-2.7)(-6.5,-3.9)(-5.4,-3.4)(-5,-3.9)(-4.6,-3.2)(-5,-2.9)(-4.3,-4.3)(-3.6,-4.4)(-3.3,-5)(-4,-5.4)(-3.5,-1.9)(-3.1,-2.4)(-2.6,-2.9)(-1.9,-3.3)
(-7.82,0.5)(-7.62,0.1)(-7.52,-0.8)(-7.32,-1.3)(-7.22,1.4)(-7.42,2)(-6.82,-1)(-6.12,-0.9)(-5.72,-1.1)(-6.42,0.4)(-5.82,-3.95)(-5.22,-5.65)
};

% ridges
\ridges{c10}{line width=10pt}
\ridges{c9}{line width=6.5pt}
\ridges{c8}{line width=3.5pt,dash pattern=on 9pt off 5pt}
% small spots
\addplot[only marks,mark=square*,mark size=6pt,color=c10,mark options={color=c10,yscale=0.7},forget plot] coordinates {
(-6.32,4.76)(-6.42,4.22)(-6.79,3.84)(-5.12,3.38)(-5.61,-0.21)(-7.33,0.24)(-7,-0.28)(-7.12,-0.84)(-3.99,-3.69)(-5.49,-4.27)(-4.99,-4.66)(-4.75,-5.17)(-0.89,-5.75)(-2.67,5.69)(0.81,5.8)(-1.59,-7.18)(-1.13,-7.18)(-0.57,-7.5)(-2.9,7.46)(-3.31,7.15)(-3.8,7.05)(0.5,7.61)(1,7.28)(1.55,7.28)};
\addplot[only marks,mark=*,mark size=4.5pt,color=c9,mark options={color=c9,yscale=0.7},forget plot] coordinates {
(-6.32,4.76)(-6.42,4.22)(-6.79,3.84)(-5.12,3.38)(-5.61,-0.21)(-7.33,0.24)(-7,-0.28)(-7.12,-0.84)(-3.99,-3.69)(-5.49,-4.27)(-4.99,-4.66)(-4.75,-5.17)(-0.89,-5.75)(-2.67,5.69)(0.81,5.8)(-1.59,-7.18)(-1.13,-7.18)(-0.57,-7.5)(-2.9,7.46)(-3.31,7.15)(-3.8,7.05)(0.5,7.61)(1,7.28)(1.55,7.28)};
\addplot[only marks,mark=*,mark size=3pt,color=c8,mark options={color=c8,yscale=0.7},forget plot] coordinates {
(-6.32,4.76)(-6.42,4.22)(-6.79,3.84)(-5.12,3.38)(-5.61,-0.21)(-7.33,0.24)(-7,-0.28)(-7.12,-0.84)(-3.99,-3.69)(-5.49,-4.27)(-4.99,-4.66)(-4.75,-5.17)(-0.89,-5.75)(-2.67,5.69)(0.81,5.8)(-1.59,-7.18)(-1.13,-7.18)(-0.57,-7.5)(-2.9,7.46)(-3.31,7.15)(-3.8,7.05)(0.5,7.61)(1,7.28)(1.55,7.28)};
\addplot[only marks,mark=*,mark size=2.2pt,color=c7,mark options={color=c7,yscale=0.7},forget plot] coordinates {
(-6.42,4.22)(-5.12,3.38)(-5.61,-0.21)(-3.99,-3.69)(-0.89,-5.75)(-2.67,5.69)(0.81,5.8)(-4.75,-5.17)};
% hot spots
\hotspots{c9}{line width=13pt,line cap=round}
\hotspots{c8}{line width=11pt}
\hotspots{c7}{line width=8pt}
\hotspots{c6}{line width=5pt}
\hotspots{c5}{line width=1.8pt}

% hole, from the rim inwards
\holelevel{c10}{1.05}{1.03}
\holelevel{c9}{1.035}{1.02}
\holelevel{c7}{1.015}{1.01}
\holelevel{c5}{1.0}{1.0}
\holelevel{c4}{0.98}{0.99}
\holelevel{c3}{0.96}{0.975}
\holelevel{c2}{0.94}{0.962}
\holelevel{c1}{0.915}{0.952}
\holelevel{c0}{0.89}{0.942}
\holelevel{white}{0.865}{0.925}
\end{axis}
\begin{axis}[
    at={(58.5pt,32.5pt)},anchor=south west,
    scale only axis,width=606pt,height=697pt,
    xmin=-13,xmax=1.906,ymin=-13,ymax=13,
    axis x line*=box,axis y line*=left,
    axis line style={line width=0.8pt,black!85},
    xtick=\empty,
    ytick={-10,-5,0,5,10},yticklabels={−10,−5,0,5,10},
    minor ytick={-12,-11,-9,-8,-7,-6,-4,-3,-2,-1,1,2,3,4,6,7,8,9,11,12},
    ytick pos=left,tick align=inside,
    major tick length=33pt,minor tick length=16.5pt,
    tick style={line width=0.8pt,black!85},
    yticklabel style={font=\fontsize{28}{30}\selectfont,xshift=-1pt},
  ]
\end{axis}
\node[anchor=base west,inner sep=0pt,font=\fontsize{27}{30}\selectfont] at (57.5pt,733pt) {×10\raisebox{11pt}{\fontsize{18}{20}\selectfont −3}};
\end{tikzpicture}
\end{document}
